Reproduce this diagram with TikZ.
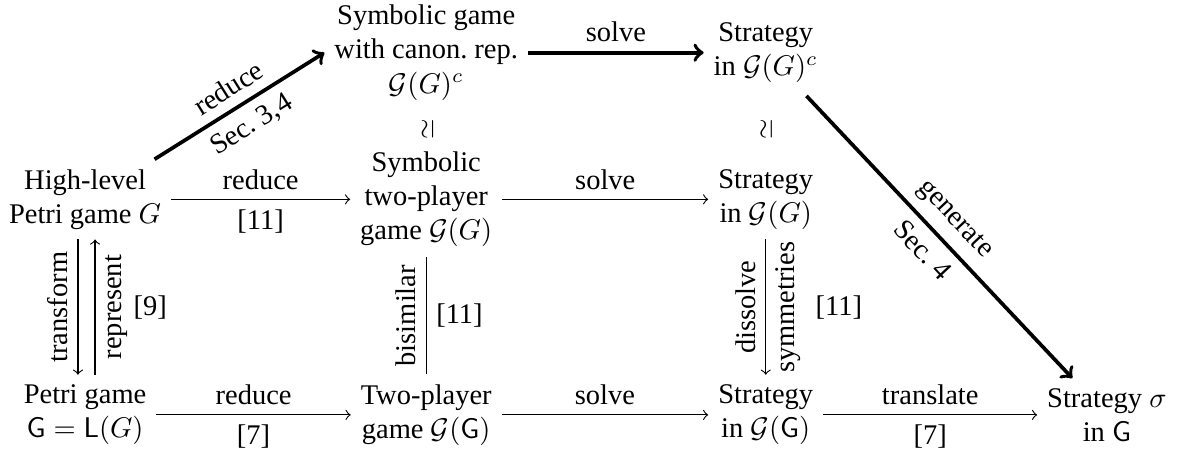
\documentclass[tikz,border=0pt]{standalone}
\usepackage{fontspec}
\setmainfont{Liberation Serif}
\usetikzlibrary{positioning}

\begin{document}
\begin{tikzpicture}[
    game/.style={align=center},
    arr/.style={->},
    bigarr/.style={->, line width=1.3pt},
    iso/.style={rotate=90, font=\small}
  ]
    \useasboundingbox (0,0) rectangle (14.55,5.59);
    % Games and strategies
    \node[game] (hl) at (1.05, 3.13) {High-level\\Petri game $G$};
    \node[game] (pg) at (1.05, 0.47) {Petri game\\$\mathsf{G}=\mathsf{L}(G)$};
    \node[game] (scr) at (5.26, 4.94) {Symbolic game\\with canon.\ rep.\\$\mathcal{G}(G)^c$};
    \node[game] (sym) at (5.26, 3.13) {Symbolic\\two-player\\game $\mathcal{G}(G)$};
    \node[game] (tp) at (5.26, 0.47) {Two-player\\game $\mathcal{G}(\mathsf{G})$};
    \node[game] (stc) at (9.45, 4.94) {Strategy\\in $\mathcal{G}(G)^c$};
    \node[game] (sts) at (9.45, 3.13) {Strategy\\in $\mathcal{G}(G)$};
    \node[game] (stg) at (9.45, 0.47) {Strategy\\in $\mathcal{G}(\mathsf{G})$};
    \node[game] (sig) at (13.66, 0.47) {Strategy $\sigma$\\in $\mathsf{G}$};
    % Isomorphisms
    \node[iso] (iso1) at (5.28, 3.99) {$\simeq$};
    \node[iso] (iso2) at (9.46, 3.99) {$\simeq$};
    % Symbolic route
    \draw[bigarr] (hl.30) -- node[sloped, above] {reduce} node[sloped, below] {Sec.\ 3,4} (scr.west);
    \draw[bigarr] (scr.east) -- node[above] {solve} (stc.west);
    \draw[bigarr, shorten <=1.5pt] (stc) -- node[pos=0.5, sloped, above] {generate} node[pos=0.5, sloped, below] {Sec.\ 4} (sig);
    % Middle row
    \draw[arr] (hl.east) -- node[above] {reduce} node[below] {[11]} (sym.west);
    \draw[arr] (sym.east) -- node[above] {solve} (sts.west);
    % Vertical connections
    \draw[arr] ([xshift=-2.5pt]hl.south) -- node[rotate=90, anchor=south] {transform} ([xshift=-2.5pt]pg.north);
    \draw[arr] ([xshift=3.5pt]pg.north) -- node[rotate=90, anchor=north] {represent} node[right=10pt] {[9]} ([xshift=3.5pt]hl.south);
    \draw (sym) -- node[rotate=90, anchor=south] {bisimilar} node[right] {[11]} (tp);
    \draw[arr] (sts) -- node[rotate=90, anchor=south] {dissolve} node[rotate=90, anchor=north] {symmetries} node[right=14pt] {[11]} (stg);
    % Bottom row
    \draw[arr] (pg.east) -- node[above] {reduce} node[below] {[7]} (tp.west);
    \draw[arr] (tp.east) -- node[above] {solve} (stg.west);
    \draw[arr] (stg.east) -- node[above] {translate} node[below] {[7]} (sig.west);
\end{tikzpicture}
\end{document}
